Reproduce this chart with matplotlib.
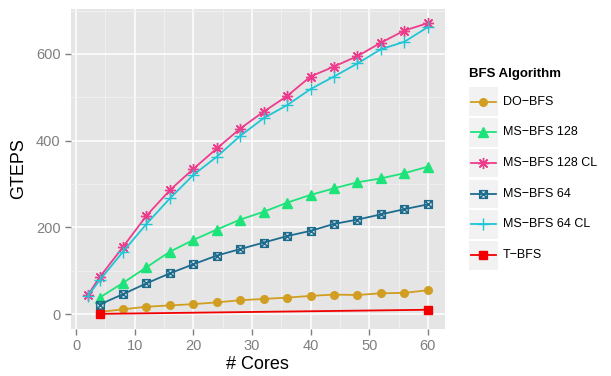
import matplotlib
matplotlib.use("Agg")
import matplotlib.pyplot as plt
from matplotlib.path import Path
from matplotlib.patches import Rectangle
from matplotlib.lines import Line2D

plt.rcParams['font.family'] = ['Liberation Sans', 'DejaVu Sans']

cores = [4, 8, 12, 16, 20, 24, 28, 32, 36, 40, 44, 48, 52, 56, 60]
cores_cl = [2] + cores

do_bfs = [5, 11, 17, 20, 23, 27, 32, 35, 38, 42, 45, 44, 48, 49, 55]
ms128 = [38, 72, 108, 144, 171, 195, 218, 236, 257, 275, 290, 304, 313, 325, 340]
ms128_cl = [44, 85, 155, 227, 286, 335, 382, 428, 467, 503, 548, 571, 595, 626, 654, 671]
ms64 = [22, 46, 71, 94, 115, 135, 150, 165, 180, 192, 208, 218, 230, 242, 253]
ms64_cl = [42, 78, 144, 208, 267, 321, 363, 411, 452, 482, 519, 548, 578, 611, 628, 662]
tbfs_cores = [4, 60]
tbfs = [0.5, 10]

labels = ['DO\u2212BFS', 'MS\u2212BFS 128', 'MS\u2212BFS 128 CL', 'MS\u2212BFS 64', 'MS\u2212BFS 64 CL', 'T\u2212BFS']

# boxed x marker (ggplot shape 7)
boxx = Path([(-1, -1), (1, -1), (1, 1), (-1, 1), (-1, -1), (-1, -1), (1, 1), (-1, 1), (1, -1)],
            [Path.MOVETO, Path.LINETO, Path.LINETO, Path.LINETO, Path.CLOSEPOLY,
             Path.MOVETO, Path.LINETO, Path.MOVETO, Path.LINETO])

colors = ['#D19E22', '#1EE37A', '#EE3C8C', '#1D6C8E', '#1EC6D6', '#F20000']
markers = [
    dict(marker='o', ms=5.5),
    dict(marker='^', ms=6.5),
    dict(marker=(8, 2, 0), ms=8, mew=1.0),
    dict(marker=boxx, ms=5.5, mfc='none', mew=1.1),
    dict(marker='+', ms=9, mew=1.0),
    dict(marker='s', ms=5.5),
]
series = [(cores, do_bfs), (cores, ms128), (cores_cl, ms128_cl), (cores, ms64), (cores_cl, ms64_cl), (tbfs_cores, tbfs)]

fig = plt.figure(figsize=(6.11, 3.76), dpi=100)
ax = fig.add_axes([0.116, 0.126, 0.612, 0.851])
ax.set_facecolor('#E5E5E5')
for sp in ax.spines.values():
    sp.set_visible(False)

ax.set_xlim(-0.9, 62.9)
ax.set_ylim(-33.5, 704.5)
ax.set_xticks([0, 10, 20, 30, 40, 50, 60])
ax.set_yticks([0, 200, 400, 600])
ax.set_xticks([5, 15, 25, 35, 45, 55], minor=True)
ax.set_yticks([100, 300, 500, 700], minor=True)
ax.grid(which='major', color='white', lw=1.1)
ax.grid(which='minor', color='#F2F2F2', lw=0.6)
ax.set_axisbelow(True)
ax.tick_params(which='major', colors='#7F7F7F', labelsize=10.5, length=4, width=1)
ax.tick_params(which='minor', length=0)

for (x, y), c, m in zip(series, colors, markers):
    ax.plot(x, y, lw=1.3, color=c, **m)

ax.set_xlabel('# Cores', fontsize=13, labelpad=2)
ax.set_ylabel('GTEPS', fontsize=13, labelpad=6)

# legend drawn in figure pixels
W, H = 611, 376
fig.text(469 / W, 1 - 74 / H, 'BFS Algorithm', fontsize=9.5, fontweight='bold', va='center', ha='left')
for i, (lab, c, m) in enumerate(zip(labels, colors, markers)):
    top = 87.5 + i * 30.7
    fig.patches.append(Rectangle((469 / W, 1 - (top + 28.5) / H), 28.5 / W, 28.5 / H,
                                 transform=fig.transFigure, facecolor='#F2F2F2', edgecolor='none'))
    yc = 1 - (top + 14.2) / H
    fig.lines.append(Line2D([471 / W, 496 / W], [yc, yc], transform=fig.transFigure, lw=1.3, color=c))
    fig.lines.append(Line2D([483.3 / W], [yc], transform=fig.transFigure, lw=0, color=c, **m))
    fig.text(503 / W, yc, lab, fontsize=9, va='center', ha='left')

fig.savefig('out.png', dpi=100)
